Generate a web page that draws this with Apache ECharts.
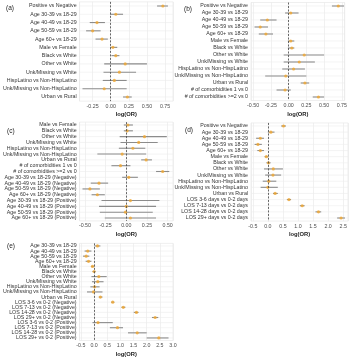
<!DOCTYPE html>
<html lang="en">
<head>
<meta charset="UTF-8">
<title>Forest plots</title>
<script src="https://cdn.jsdelivr.net/npm/echarts@6/dist/echarts.min.js"></script>
<style>body{margin:0;background:#fff} #myChart{width:350px;height:358px}</style>
</head>
<body>
<div id="myChart"></div>
<script>
// (a)
var labelsA = ['Positive vs Negative','Age 30-39 vs 18-29','Age 40-49 vs 18-29','Age 50-59 vs 18-29','Age 60+ vs 18-29','Male vs Female','Black vs White','Other vs White','Unk/Missing vs White','HispLatino vs Non-HispLatino','Unk/Missing vs Non-HispLatino','Urban vs Rural'];
var estA = [0.72, 0.07, -0.19, -0.25, -0.12, 0.03, 0.07, 0.20, 0.12, 0.05, -0.09, 0.23];
var loA  = [0.64, -0.01, -0.29, -0.34, -0.21, -0.01, 0.01, -0.09, -0.10, -0.11, -0.39, 0.17];
var hiA  = [0.79, 0.17, -0.08, -0.14, -0.04, 0.09, 0.12, 0.50, 0.35, 0.22, 0.22, 0.29];

// (b)
var labelsB = ['Positive vs Negative','Age 30-39 vs 18-29','Age 40-49 vs 18-29','Age 50-59 vs 18-29','Age 60+ vs 18-29','Male vs Female','Black vs White','Other vs White','Unk/Missing vs White','HispLatino vs Non-HispLatino','Unk/Missing vs Non-HispLatino','Urban vs Rural','# of comorbidities 1 vs 0','# of comorbidities >=2 vs 0'];
var estB = [0.70, 0.03, -0.30, -0.40, -0.32, 0.03, 0.045, 0.22, 0.15, 0.07, -0.04, 0.23, -0.05, 0.42];
var loB  = [0.61, -0.05, -0.40, -0.48, -0.42, -0.01, -0.01, -0.07, -0.07, -0.09, -0.33, 0.17, -0.17, 0.34];
var hiB  = [0.78, 0.14, -0.17, -0.29, -0.22, 0.08, 0.08, 0.50, 0.37, 0.23, 0.25, 0.29, 0.03, 0.50];

// (c)
var labelsC = ['Male vs Female','Black vs White','Other vs White','Unk/Missing vs White','HispLatino vs Non-HispLatino','Unk/Missing vs Non-HispLatino','Urban vs Rural','# of comorbidities 1 vs 0','# of comorbidities >=2 vs 0','Age 30-39 vs 18-29 (Negative)','Age 40-49 vs 18-29 (Negative)','Age 50-59 vs 18-29 (Negative)','Age 60+ vs 18-29 (Negative)','Age 30-39 vs 18-29 (Positive)','Age 40-49 vs 18-29 (Positive)','Age 50-59 vs 18-29 (Positive)','Age 60+ vs 18-29 (Positive)'];
var estC = [0.02, 0.01, 0.22, 0.15, 0.08, -0.05, 0.24, -0.07, 0.44, 0.03, -0.33, -0.44, -0.35, 0.05, 0.00, -0.01, 0.05];
var loC  = [-0.03, -0.03, -0.08, -0.07, -0.09, -0.35, 0.18, -0.18, 0.36, -0.05, -0.43, -0.53, -0.42, -0.30, -0.33, -0.32, -0.26];
var hiC  = [0.08, 0.08, 0.49, 0.38, 0.23, 0.24, 0.31, 0.05, 0.52, 0.14, -0.22, -0.32, -0.26, 0.40, 0.36, 0.32, 0.36];

// (d)
var labelsD = ['Positive vs Negative','Age 30-39 vs 18-29','Age 40-49 vs 18-29','Age 50-59 vs 18-29','Age 60+ vs 18-29','Male vs Female','Black vs White','Other vs White','Unk/Missing vs White','HispLatino vs Non-HispLatino','Unk/Missing vs Non-HispLatino','Urban vs Rural','LOS 3-6 days vs 0-2 days','LOS 7-13 days vs 0-2 days','LOS 14-28 days vs 0-2 days','LOS 29+ days vs 0-2 days'];
var estD = [0.52, 0.10, -0.25, -0.33, -0.25, -0.05, 0.02, 0.18, 0.17, 0.03, 0.00, 0.24, 0.70, 1.14, 1.68, 2.43];
var loD  = [0.44, 0.00, -0.39, -0.44, -0.35, -0.11, -0.05, -0.13, -0.09, -0.17, -0.24, 0.17, 0.63, 1.06, 1.58, 2.30];
var hiD  = [0.60, 0.22, -0.13, -0.20, -0.13, 0.02, 0.09, 0.50, 0.44, 0.28, 0.33, 0.33, 0.77, 1.22, 1.77, 2.56];

// (e)
var labelsE = ['Age 30-39 vs 18-29','Age 40-49 vs 18-29','Age 50-59 vs 18-29','Age 60+ vs 18-29','Male vs Female','Black vs White','Other vs White','Unk/Missing vs White','HispLatino vs Non-HispLatino','Unk/Missing vs Non-HispLatino','Urban vs Rural','LOS 3-6 vs 0-2 (Negative)','LOS 7-13 vs 0-2 (Negative)','LOS 14-28 vs 0-2 (Negative)','LOS 29+ vs 0-2 (Negative)','LOS 3-6 vs 0-2 (Positive)','LOS 7-13 vs 0-2 (Positive)','LOS 14-28 vs 0-2 (Positive)','LOS 29+ vs 0-2 (Positive)'];
var estE = [0.13, -0.24, -0.30, -0.21, -0.06, 0.00, 0.18, 0.14, 0.02, -0.02, 0.24, 0.71, 1.11, 1.61, 2.32, 0.15, 0.89, 1.64, 2.46];
var loE  = [0.02, -0.36, -0.42, -0.32, -0.12, -0.06, -0.10, -0.08, -0.14, -0.27, 0.18, 0.65, 1.04, 1.51, 2.20, -0.06, 0.60, 1.29, 2.00];
var hiE  = [0.24, -0.10, -0.18, -0.10, 0.02, 0.06, 0.48, 0.36, 0.21, 0.32, 0.32, 0.77, 1.19, 1.69, 2.44, 0.71, 1.10, 2.00, 2.83];

var panels = [
    {tag: '(a)', names: labelsA, est: estA, lo: loA, hi: hiA, left: 76, first: 6, last: 97, width: 97, min: -0.43, max: 0.86, step: 0.25, dec: 2, tx: 1, ty: 0},
    {tag: '(b)', names: labelsB, est: estB, lo: loB, hi: hiB, left: 251, first: 6, last: 97, width: 97, min: -0.53, max: 0.79, step: 0.25, dec: 2, tx: 179, ty: 1},
    {tag: '(c)', names: labelsC, est: estC, lo: loC, hi: hiC, left: 75, first: 125, last: 218, width: 98, min: -0.565, max: 0.565, step: 0.25, dec: 2, tx: 2, ty: 123},
    {tag: '(d)', names: labelsD, est: estD, lo: loD, hi: hiD, left: 251, first: 126, last: 218, width: 97, min: -0.56, max: 2.66, step: 0.5, dec: 1, tx: 180, ty: 122},
    {tag: '(e)', names: labelsE, est: estE, lo: loE, hi: hiE, left: 76, first: 246, last: 340, width: 97, min: -0.55, max: 3.0, step: 0.5, dec: 1, tx: 2, ty: 238}
];

var font = 'Liberation Sans, Arial, sans-serif';

function renderCI(params, api) {
    var y = api.value(2);
    var a = api.coord([api.value(0), y]);
    var b = api.coord([api.value(1), y]);
    var cs = params.coordSys;
    return {
        type: 'group',
        children: [
            {type: 'line', shape: {x1: cs.x, y1: a[1], x2: cs.x + cs.width, y2: a[1]}, style: {stroke: '#ececec', lineWidth: 0.6}},
            {type: 'line', shape: {x1: a[0], y1: a[1], x2: b[0], y2: b[1]}, style: {stroke: '#8c8c8c', lineWidth: 1.1}}
        ]
    };
}

var grids = [], xAxes = [], yAxes = [], series = [], titles = [];

panels.forEach(function (p, k) {
    var n = p.names.length;
    var band = (p.last - p.first) / (n - 1);
    grids.push({left: p.left, top: p.first - band / 2, width: p.width, height: band * n,
        show: true, borderColor: '#e4e4e4', borderWidth: 0.6, containLabel: false});
    xAxes.push({
        type: 'value', gridIndex: k, min: p.min, max: p.max,
        minInterval: p.step, maxInterval: p.step,
        name: 'log(OR)', nameLocation: 'middle', nameGap: 10.5,
        nameTextStyle: {fontSize: 5.8, fontWeight: 'bold', color: '#222', fontFamily: font},
        axisLine: {show: false}, axisTick: {show: false},
        axisLabel: {
            fontSize: 5.3, color: '#4d4d4d', fontFamily: font, margin: 2.5,
            showMinLabel: false, showMaxLabel: k === 4,
            formatter: function (v) {
                var r = v / p.step;
                return Math.abs(r - Math.round(r)) < 1e-6 ? v.toFixed(p.dec) : '';
            }
        },
        splitLine: {lineStyle: {color: '#e8e8e8', width: 0.6}}
    });
    yAxes.push({
        type: 'category', gridIndex: k, data: p.names, inverse: true,
        axisLine: {show: false}, axisTick: {show: false}, splitLine: {show: false},
        axisLabel: {fontSize: 5.3, color: '#333', fontFamily: font, margin: 3, interval: 0}
    });
    var ci = [], pts = [];
    for (var i = 0; i < n; i++) {
        ci.push([p.lo[i], p.hi[i], i]);
        pts.push([p.est[i], i]);
    }
    series.push({
        type: 'custom', xAxisIndex: k, yAxisIndex: k, renderItem: renderCI,
        encode: {x: [0, 1], y: 2}, data: ci, silent: true, z: 2
    });
    series.push({
        type: 'scatter', xAxisIndex: k, yAxisIndex: k, data: pts, symbol: 'circle', symbolSize: 3.2,
        itemStyle: {color: '#f0a630'}, silent: true, z: 4,
        markLine: {
            silent: true, symbol: 'none', label: {show: false},
            lineStyle: {type: [2, 1.5], color: '#444', width: 0.8},
            data: [{xAxis: 0}]
        }
    });
    titles.push({text: p.tag, left: p.tx, top: p.ty,
        textStyle: {fontSize: 6.5, fontWeight: 'normal', color: '#222', fontFamily: font}});
});

var myChart = echarts.init(document.getElementById('myChart'));
var option = {
    animation: false,
    backgroundColor: '#fff',
    title: titles,
    grid: grids,
    xAxis: xAxes,
    yAxis: yAxes,
    series: series
};
myChart.setOption(option);
</script>
</body>
</html>
